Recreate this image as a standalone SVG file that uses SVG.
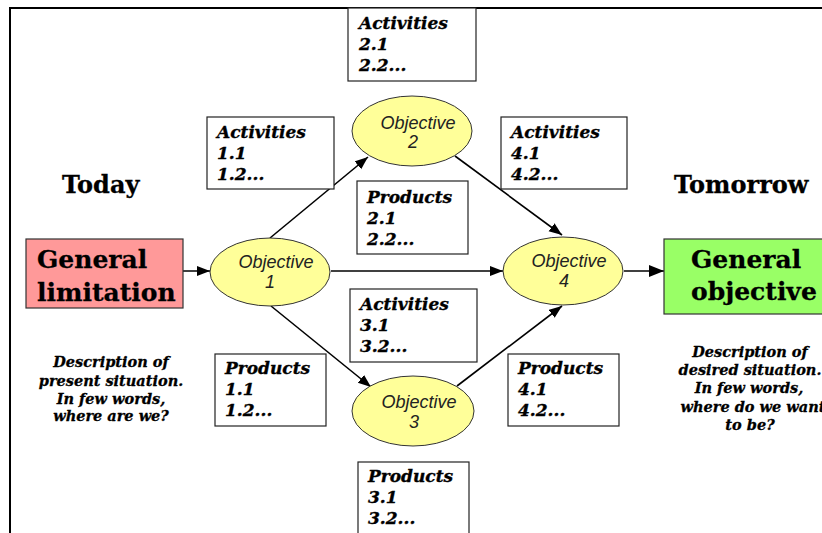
<svg xmlns="http://www.w3.org/2000/svg" width="822" height="533" viewBox="0 0 822 533">
  <style>
    .frame { fill: none; stroke: #000; stroke-width: 2; }
    .box { fill: #fff; stroke: #222; stroke-width: 1.2; }
    .obj { fill: #ffff99; stroke: #333; stroke-width: 1; }
    .boxtxt { font-family: "DejaVu Serif", "Liberation Serif", serif; font-weight: bold; font-style: italic; font-size: 17px; fill: #000; stroke: #000; stroke-width: 0.35; }
    .objtxt { font-family: "Liberation Sans", Arial, sans-serif; font-style: italic; font-size: 18px; fill: #222; text-anchor: middle; }
    .big { font-family: "DejaVu Serif", "Liberation Serif", serif; font-weight: bold; font-size: 25px; fill: #000; stroke: #000; stroke-width: 0.3; }
    .title { font-family: "DejaVu Serif", "Liberation Serif", serif; font-weight: bold; font-size: 24px; fill: #000; stroke: #000; stroke-width: 0.3; }
    .desc { font-family: "DejaVu Serif", "Liberation Serif", serif; font-weight: bold; font-style: italic; font-size: 14.5px; fill: #000; stroke: #000; stroke-width: 0.3; text-anchor: middle; }
    .conn { fill: none; stroke: #000; stroke-width: 1.6; }
  </style>
  <defs>
    <marker id="arrow" markerUnits="userSpaceOnUse" markerWidth="14" markerHeight="12" refX="13" refY="5" orient="auto">
      <path d="M0,0 L13,5 L0,10 Z" fill="#000"/>
    </marker>
    <marker id="arrowBig" markerUnits="userSpaceOnUse" markerWidth="16" markerHeight="14" refX="15" refY="6" orient="auto">
      <path d="M0,0 L15,6 L0,12 Z" fill="#000"/>
    </marker>
  </defs>

  <rect width="822" height="533" fill="#fff"/>
  <!-- page frame -->
  <path class="frame" d="M10,533 V8 H822"/>

  <!-- headings -->
  <text class="title" x="62" y="193">Today</text>
  <text class="title" x="674" y="193">Tomorrow</text>

  <!-- connectors -->
  <g id="connectors">
    <path class="conn" d="M176,271 H210" marker-end="url(#arrow)"/>
    <path class="conn" d="M331,271 H503" stroke-width="2" marker-end="url(#arrow)"/>
    <path class="conn" d="M624,271 H664" stroke-width="3" marker-end="url(#arrowBig)"/>
    <path class="conn" d="M270,238 L368,157" marker-end="url(#arrow)"/>
    <path class="conn" d="M455,156 L562,235" marker-end="url(#arrow)"/>
    <path class="conn" d="M271,306 L371,387" marker-end="url(#arrow)"/>
    <path class="conn" d="M457,386 L562,306" marker-end="url(#arrow)"/>
  </g>

  <!-- start and end situations -->
  <g id="general-limitation">
    <rect x="26" y="239" width="157" height="69" fill="#ff9999" stroke="#333" stroke-width="1.2"/>
    <text class="big" x="37" y="268" font-size="26">General</text>
    <text class="big" x="37" y="301" font-size="26">limitation</text>
  </g>
  <g id="general-objective">
    <rect x="664" y="239" width="170" height="75" fill="#99ff66" stroke="#333" stroke-width="1.2"/>
    <text class="big" x="691" y="268">General</text>
    <text class="big" x="691" y="300">objective</text>
  </g>

  <g id="desc-present">
    <text class="desc" x="111" y="367">Description of</text>
    <text class="desc" x="111" y="386">present situation.</text>
    <text class="desc" x="111" y="404">In few words,</text>
    <text class="desc" x="111" y="421">where are we?</text>
  </g>
  <g id="desc-desired">
    <text class="desc" x="750" y="357">Description of</text>
    <text class="desc" x="750" y="375">desired situation.</text>
    <text class="desc" x="749" y="393">In few words,</text>
    <text class="desc" x="753" y="412">where do we want</text>
    <text class="desc" x="750" y="430">to be?</text>
  </g>

  <!-- objectives -->
  <g id="objective-1">
    <ellipse class="obj" cx="270" cy="272" rx="60" ry="34"/>
    <text class="objtxt" x="276" y="268">Objective</text>
    <text class="objtxt" x="270" y="288">1</text>
  </g>
  <g id="objective-2">
    <ellipse class="obj" cx="412" cy="131" rx="60" ry="35"/>
    <text class="objtxt" x="418" y="129">Objective</text>
    <text class="objtxt" x="413" y="148">2</text>
  </g>
  <g id="objective-3">
    <ellipse class="obj" cx="413" cy="411" rx="61" ry="35"/>
    <text class="objtxt" x="419" y="408">Objective</text>
    <text class="objtxt" x="414" y="428">3</text>
  </g>
  <g id="objective-4">
    <ellipse class="obj" cx="563" cy="271" rx="60" ry="34"/>
    <text class="objtxt" x="569" y="267">Objective</text>
    <text class="objtxt" x="564" y="287">4</text>
  </g>

  <!-- activity and product boxes -->
  <g id="activities-1">
    <rect class="box" x="207" y="117" width="127" height="72"/>
    <text class="boxtxt" x="217" y="138">Activities</text>
    <text class="boxtxt" x="217" y="159">1.1</text>
    <text class="boxtxt" x="217" y="180">1.2...</text>
  </g>
  <g id="activities-2">
    <rect class="box" x="348" y="8" width="128" height="73"/>
    <text class="boxtxt" x="359" y="29">Activities</text>
    <text class="boxtxt" x="359" y="50">2.1</text>
    <text class="boxtxt" x="359" y="71">2.2...</text>
  </g>
  <g id="products-2">
    <rect class="box" x="357" y="181" width="111" height="73"/>
    <text class="boxtxt" x="367" y="203">Products</text>
    <text class="boxtxt" x="367" y="224">2.1</text>
    <text class="boxtxt" x="367" y="245">2.2...</text>
  </g>
  <g id="activities-4">
    <rect class="box" x="501" y="117" width="126" height="72"/>
    <text class="boxtxt" x="511" y="138">Activities</text>
    <text class="boxtxt" x="511" y="159">4.1</text>
    <text class="boxtxt" x="511" y="180">4.2...</text>
  </g>
  <g id="activities-3">
    <rect class="box" x="350" y="289" width="127" height="73"/>
    <text class="boxtxt" x="360" y="310">Activities</text>
    <text class="boxtxt" x="360" y="331">3.1</text>
    <text class="boxtxt" x="360" y="352">3.2...</text>
  </g>
  <g id="products-1">
    <rect class="box" x="215" y="354" width="111" height="72"/>
    <text class="boxtxt" x="225" y="374">Products</text>
    <text class="boxtxt" x="225" y="395">1.1</text>
    <text class="boxtxt" x="225" y="416">1.2...</text>
  </g>
  <g id="products-4">
    <rect class="box" x="508" y="354" width="111" height="72"/>
    <text class="boxtxt" x="518" y="374">Products</text>
    <text class="boxtxt" x="518" y="395">4.1</text>
    <text class="boxtxt" x="518" y="416">4.2...</text>
  </g>
  <g id="products-3">
    <rect class="box" x="358" y="462" width="111" height="90"/>
    <text class="boxtxt" x="368" y="482">Products</text>
    <text class="boxtxt" x="368" y="503">3.1</text>
    <text class="boxtxt" x="368" y="524">3.2...</text>
  </g>
</svg>
